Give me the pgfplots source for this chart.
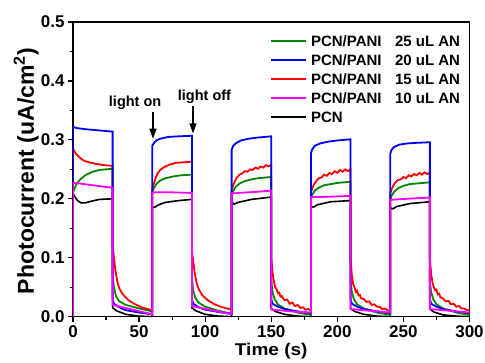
\documentclass[border=0pt]{standalone}
\usepackage{pgfplots}
\pgfplotsset{compat=1.18}
\usetikzlibrary{arrows.meta}
\usepackage{fontspec}
\setmainfont{Liberation Sans}
\newfontfamily\widefont[FakeStretch=1.12]{Liberation Sans}

\definecolor{cgreen}{RGB}{0,135,0}
\definecolor{cblue}{RGB}{0,0,255}
\definecolor{cred}{RGB}{255,0,0}
\definecolor{cmag}{RGB}{255,0,255}

\begin{document}
\begin{tikzpicture}
\useasboundingbox (-73bp,-46.3bp) rectangle (412bp,316.7bp);
\begin{axis}[
  scale only axis, width=396.5bp, height=294.7bp,
  xmin=0, xmax=300, ymin=0, ymax=0.5,
  xtick={0,50,...,300}, minor x tick num=1,
  ytick={0,0.1,0.2,0.3,0.4,0.5}, yticklabels={0.0,0.1,0.2,0.3,0.4,0.5},
  minor y tick num=1,
  tick align=outside, xtick pos=left, ytick pos=left,
  axis line style={line width=1.4bp},
  every tick/.style={black, line width=1.2bp},
  major tick length=5bp, minor tick length=3bp,
  /pgf/number format/assume math mode=true,
  ticklabel style={font=\bfseries\fontsize{17bp}{18bp}\selectfont},
  xlabel={Time (s)},
  ylabel={Photocurrent (uA/cm\textsuperscript{2})},
  xlabel style={font=\widefont\bfseries\fontsize{17bp}{20bp}\selectfont,
    at={(axis description cs:0.5,-0.1323)}, anchor=base},
  ylabel style={font=\bfseries\fontsize{23bp}{26bp}\selectfont,
    at={(axis description cs:-0.118,0.494)}, anchor=center},
  legend cell align=left,
  legend style={draw=none, fill=none, at={(axis description cs:0.497,0.969)},
    anchor=north west, inner sep=0bp, row sep=0bp,
    font=\bfseries\fontsize{15bp}{18bp}\selectfont,
    nodes={inner xsep=4bp, inner ysep=4.2bp, text height=10.7bp, text depth=0bp}},
  legend image code/.code={\draw[#1] (0bp,0bp) -- (35bp,0bp);},
]
\addlegendimage{cgreen, line width=1.8bp}
\addlegendentry{\makebox[84bp][l]{PCN/PANI}25 uL AN}
\addlegendimage{cblue, line width=1.8bp}
\addlegendentry{\makebox[84bp][l]{PCN/PANI}20 uL AN}
\addlegendimage{cred, line width=1.8bp}
\addlegendentry{\makebox[84bp][l]{PCN/PANI}15 uL AN}
\addlegendimage{cmag, line width=1.8bp}
\addlegendentry{\makebox[84bp][l]{PCN/PANI}10 uL AN}
\addlegendimage{black, line width=1.8bp}
\addlegendentry{PCN}

% PCN
\addplot[black, line width=1.6bp, forget plot] coordinates {
(0,0) (0,0.21) (1,0.205) (3,0.198) (6,0.193) (9,0.193) (14,0.196) (20,0.199) (30,0.200)
(30,0.015) (33,0.01) (40,0.004) (50,0.001) (60,0.0)
(60,0.185) (62,0.186) (65,0.19) (70,0.194) (80,0.197) (90,0.199)
(90,0.015) (93,0.01) (100,0.004) (110,0.001) (120,0.0)
(120,0.195) (122,0.191) (125,0.194) (135,0.199) (150,0.203)
(150,0.014) (153,0.009) (160,0.004) (170,0.001) (180,0.0)
(180,0.187) (182,0.186) (185,0.19) (195,0.195) (210,0.197)
(210,0.014) (213,0.009) (220,0.004) (230,0.001) (240,0.0)
(240,0.185) (242,0.183) (245,0.187) (255,0.192) (270,0.195)
(270,0.013) (273,0.008) (280,0.003) (290,0.001) (300,0.0)
};

% PCN/PANI 25 uL AN
\addplot[cgreen, line width=1.8bp, forget plot] coordinates {
(0,0) (0,0.21) (1,0.217) (3,0.226) (6,0.234) (10,0.241) (15,0.246) (20,0.249) (25,0.25) (30,0.251)
(30,0.07) (31,0.05) (32.5,0.035) (35,0.026) (40,0.02) (50,0.014) (60,0.009)
(60,0.21) (61,0.217) (63,0.225) (66,0.231) (70,0.235) (76,0.238) (82,0.24) (90,0.241)
(90,0.065) (91,0.045) (92.5,0.032) (95,0.024) (100,0.017) (110,0.01) (120,0.005)
(120,0.205) (121,0.212) (123,0.22) (126,0.226) (130,0.23) (135,0.233) (140,0.235) (145,0.236) (150,0.237)
(150,0.06) (151,0.042) (152.5,0.03) (155,0.021) (160,0.014) (170,0.007) (180,0.003)
(180,0.2) (181,0.207) (183,0.214) (186,0.219) (190,0.223) (195,0.225) (200,0.227) (205,0.228) (210,0.229)
(210,0.06) (211,0.042) (212.5,0.03) (215,0.021) (220,0.014) (230,0.007) (240,0.003)
(240,0.198) (241,0.205) (243,0.212) (246,0.218) (250,0.222) (255,0.225) (260,0.226) (265,0.227) (270,0.228)
(270,0.06) (271,0.042) (272.5,0.03) (275,0.021) (280,0.014) (290,0.007) (300,0.003)
};

% PCN/PANI 15 uL AN
\addplot[cred, line width=1.8bp, forget plot] coordinates {
(0,0) (0,0.285) (2,0.277) (5,0.27) (8,0.265) (12,0.262) (18,0.259) (24,0.257) (30,0.256)
(30,0.12) (31,0.1) (32,0.08) (33.5,0.06) (35,0.048) (38,0.037) (42,0.028) (47,0.021) (53,0.015) (60,0.011)
(60,0.215) (61,0.225) (62.5,0.235) (64,0.243) (66,0.249) (69,0.254) (73,0.258) (78,0.261) (84,0.262) (90,0.263)
(90,0.11) (91,0.095) (92,0.075) (93.5,0.058) (95,0.047) (98,0.036) (102,0.028) (107,0.021) (113,0.016) (120,0.012)
(120,0.213) (121,0.222) (122.5,0.23) (124,0.236) (126,0.241) (128,0.243) (130,0.247) (132,0.246) (134,0.25)
(136,0.249) (138,0.253) (140,0.251) (142,0.255) (144,0.253) (146,0.257) (148,0.255) (150,0.258)
(150,0.1) (151,0.075) (152,0.06) (153,0.05) (154,0.047) (155,0.04) (156,0.041) (157,0.034) (158,0.035)
(160,0.028) (162,0.029) (164,0.022) (166,0.024) (168,0.018) (170,0.02) (172,0.015) (174,0.016) (176,0.012) (178,0.013) (180,0.01)
(180,0.21) (181,0.218) (182.5,0.225) (184,0.23) (186,0.235) (188,0.236) (190,0.241) (192,0.239) (194,0.244)
(196,0.242) (198,0.247) (200,0.244) (202,0.249) (204,0.246) (206,0.25) (208,0.247) (210,0.25)
(210,0.1) (211,0.07) (212,0.055) (213,0.05) (214,0.042) (215,0.044) (216,0.036) (217,0.037) (218,0.031)
(220,0.03) (222,0.025) (224,0.026) (226,0.02) (228,0.021) (230,0.017) (232,0.017) (234,0.013) (236,0.014) (238,0.011) (240,0.01)
(240,0.208) (241,0.216) (242.5,0.223) (244,0.228) (246,0.232) (248,0.233) (250,0.237) (252,0.235) (254,0.24)
(256,0.238) (258,0.242) (260,0.24) (262,0.244) (264,0.241) (266,0.245) (268,0.242) (270,0.245)
(270,0.1) (271,0.072) (272,0.058) (273,0.05) (274,0.045) (275,0.046) (276,0.038) (277,0.039) (278,0.033)
(280,0.031) (282,0.026) (284,0.027) (286,0.021) (288,0.022) (290,0.017) (292,0.018) (294,0.014) (296,0.014) (298,0.011) (300,0.011)
};

% PCN/PANI 20 uL AN
\addplot[cblue, line width=1.8bp, forget plot] coordinates {
(0,0) (0,0.322) (3,0.320) (10,0.318) (20,0.316) (30,0.314)
(30,0.03) (31,0.022) (35,0.016) (40,0.011) (50,0.007) (60,0.004)
(60,0.29) (61,0.294) (63,0.299) (66,0.302) (72,0.305) (80,0.306) (90,0.307)
(90,0.03) (91,0.022) (95,0.016) (100,0.012) (110,0.008) (120,0.005)
(120,0.283) (121,0.289) (123,0.294) (127,0.299) (133,0.302) (140,0.304) (150,0.306)
(150,0.03) (151,0.022) (155,0.017) (160,0.013) (170,0.009) (180,0.006)
(180,0.277) (181,0.284) (183,0.29) (187,0.294) (193,0.297) (200,0.299) (210,0.301)
(210,0.03) (211,0.022) (215,0.017) (220,0.013) (230,0.009) (240,0.006)
(240,0.276) (241,0.283) (243,0.288) (247,0.292) (253,0.294) (260,0.295) (270,0.296)
(270,0.03) (271,0.022) (275,0.017) (280,0.013) (290,0.009) (300,0.006)
};

% PCN/PANI 10 uL AN
\addplot[cmag, line width=1.8bp, forget plot] coordinates {
(0,0) (0,0.227) (5,0.226) (15,0.223) (25,0.220) (30,0.219)
(30,0.020) (45,0.012) (60,0.004)
(60,0.21) (62,0.211) (75,0.211) (90,0.210)
(90,0.018) (105,0.011) (120,0.004)
(120,0.209) (125,0.21) (140,0.212) (150,0.214)
(150,0.012) (165,0.009) (180,0.007)
(180,0.203) (185,0.203) (200,0.204) (210,0.205)
(210,0.013) (225,0.01) (240,0.007)
(240,0.198) (245,0.199) (260,0.201) (270,0.202)
(270,0.013) (285,0.01) (300,0.007)
};

\node[font=\bfseries\fontsize{14.5bp}{16bp}\selectfont] at (axis cs:47,0.363) {light on};
\node[font=\bfseries\fontsize{14.5bp}{16bp}\selectfont] at (axis cs:99.5,0.373) {light off};
\draw[line width=1.3bp, -{Triangle[width=7bp,length=10bp]}] (axis cs:60.5,0.347) -- (axis cs:60.5,0.302);
\draw[line width=1.3bp, -{Triangle[width=7bp,length=10bp]}] (axis cs:90.8,0.357) -- (axis cs:90.8,0.311);
\end{axis}
\end{tikzpicture}
\end{document}
